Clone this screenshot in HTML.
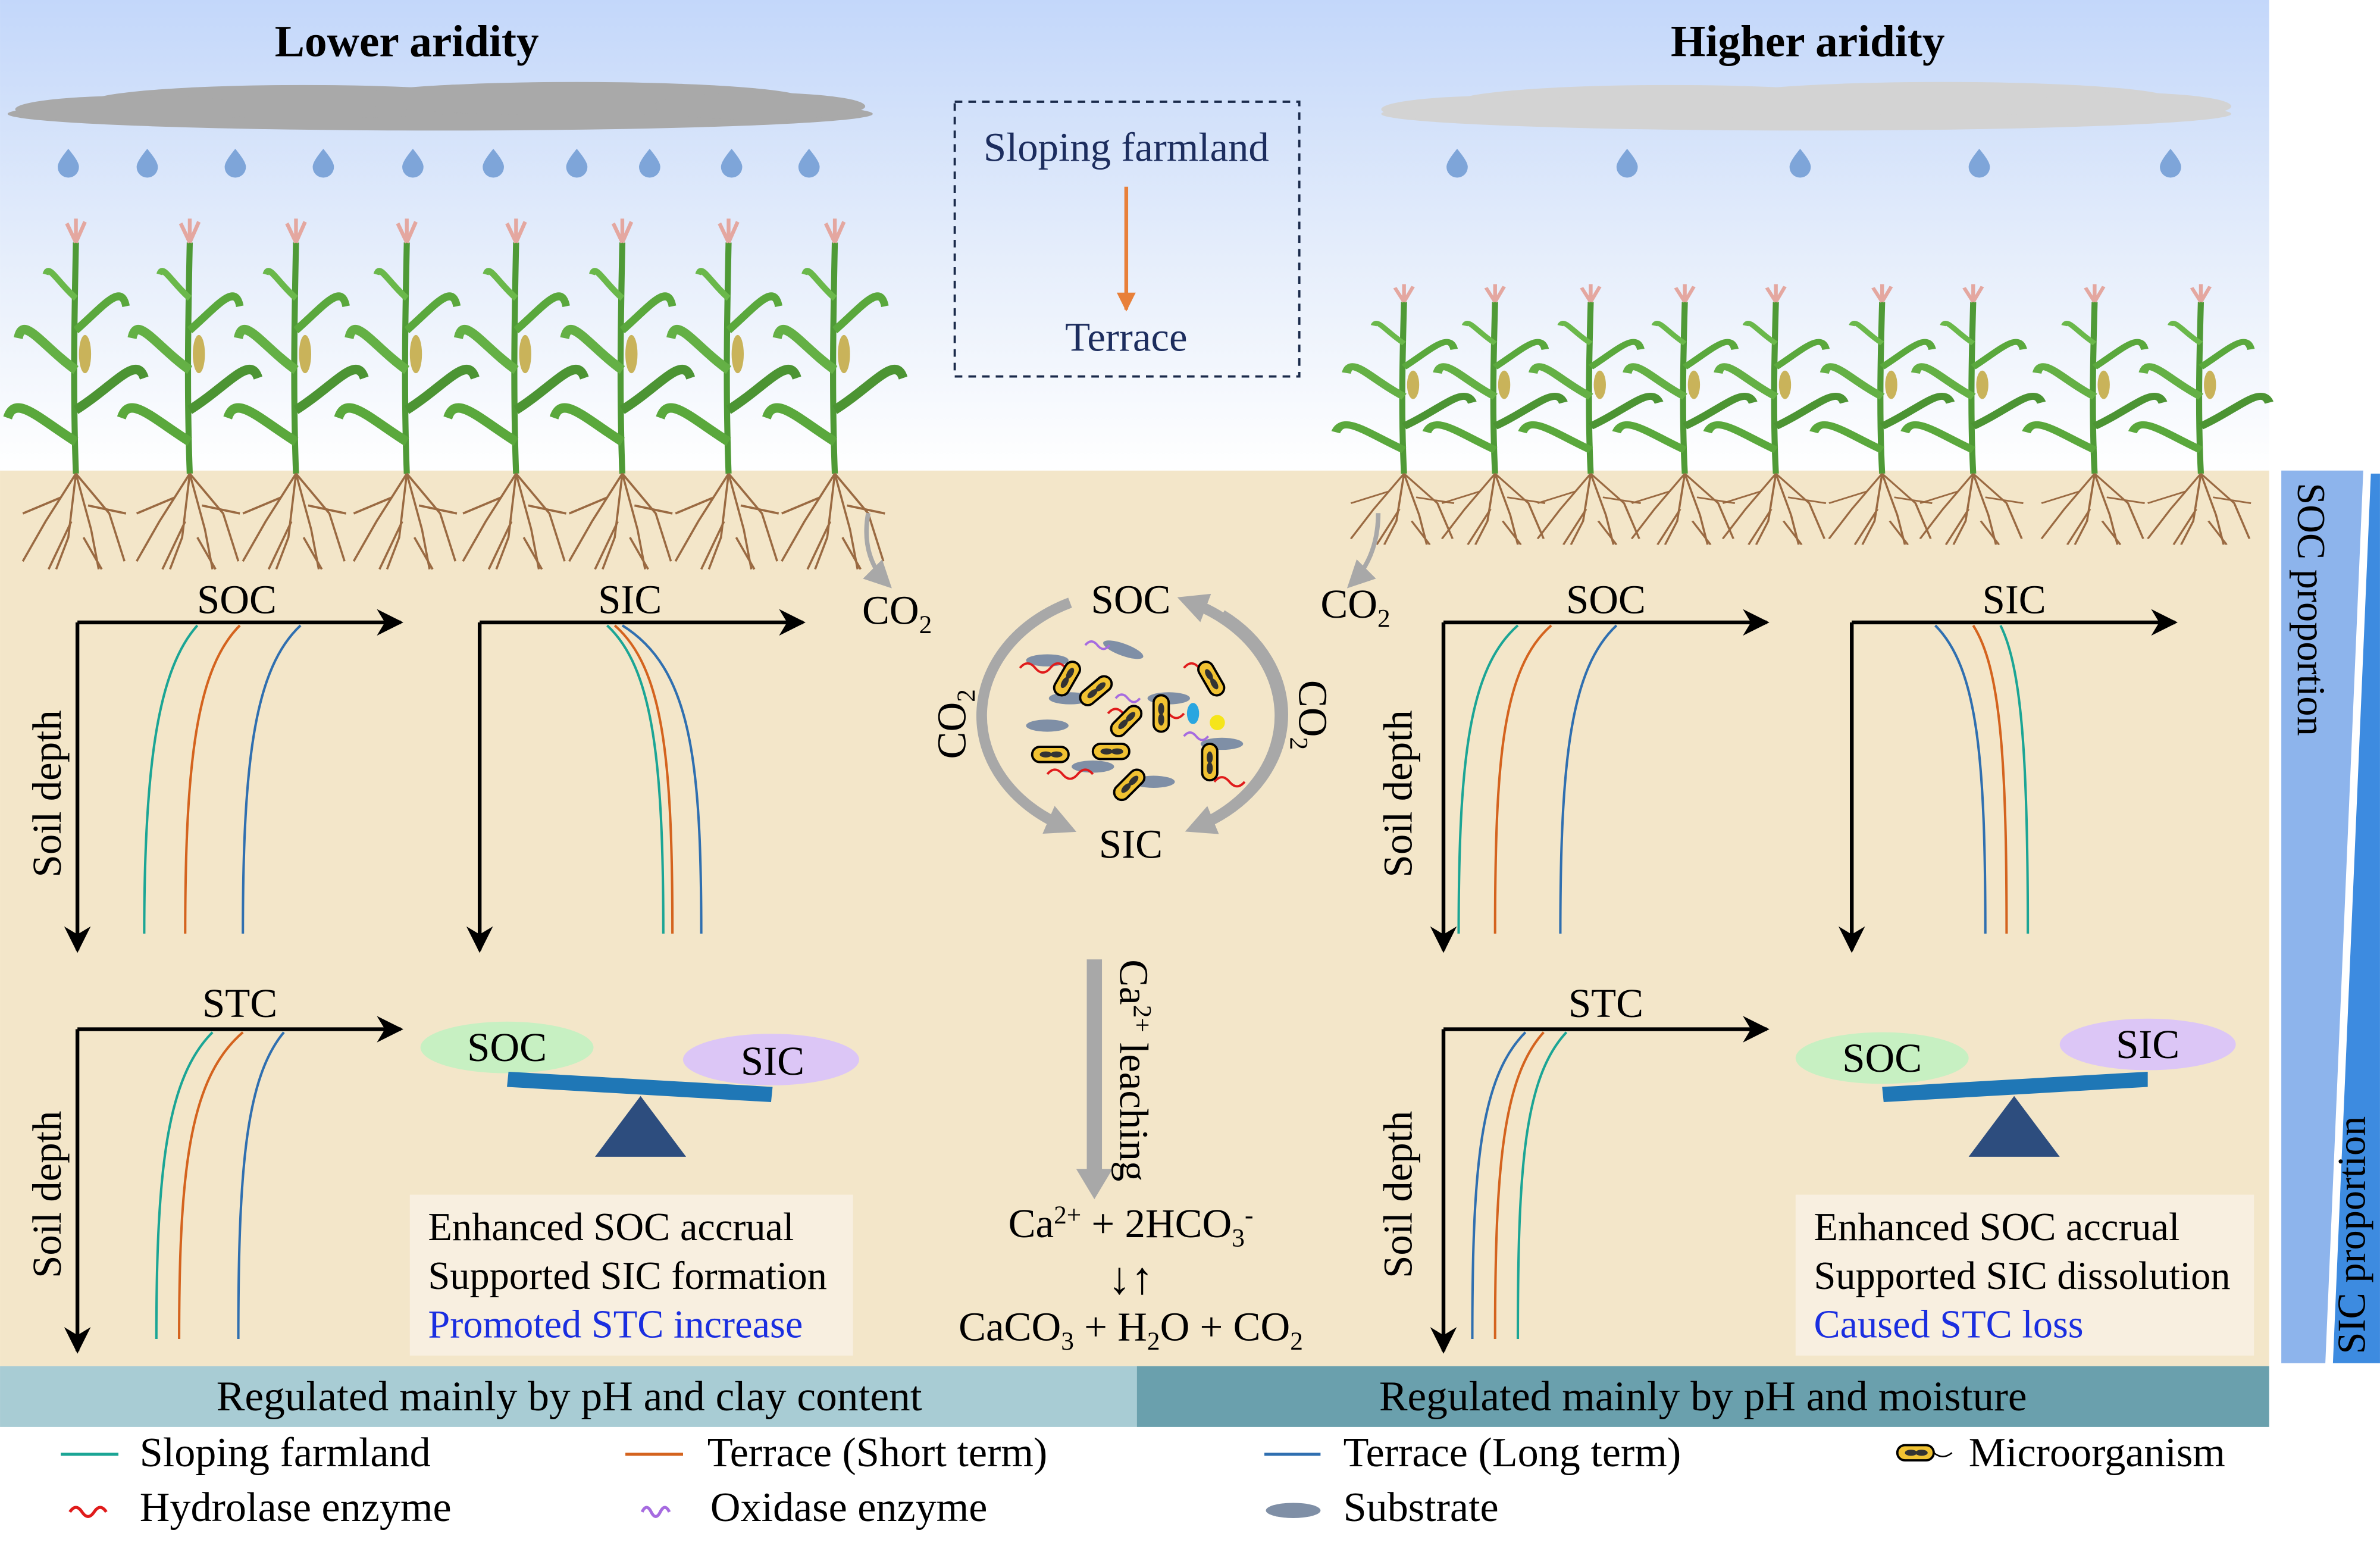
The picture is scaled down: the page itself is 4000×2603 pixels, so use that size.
<!DOCTYPE html>
<html><head><meta charset="utf-8">
<style>
html,body{margin:0;padding:0;background:#fff;}
svg{display:block;}
text{font-family:"Liberation Serif",serif;}
</style></head>
<body>
<svg width="4000" height="2603" viewBox="0 0 1568 1020.4" xmlns="http://www.w3.org/2000/svg">
<defs>
<linearGradient id="sky" x1="0" y1="0" x2="0" y2="1">
<stop offset="0" stop-color="#c3d7fa"/><stop offset="0.55" stop-color="#e6eefb"/><stop offset="1" stop-color="#ffffff"/>
</linearGradient>
<marker id="ah" viewBox="0 0 10 10" refX="9" refY="5" markerWidth="7" markerHeight="7" orient="auto"><path d="M0,0 L10,5 L0,10 L3,5z" fill="#000"/></marker>
<marker id="ao" viewBox="0 0 10 10" refX="9" refY="5" markerWidth="5" markerHeight="5" orient="auto"><path d="M0,0 L10,5 L0,10z" fill="#e8803a"/></marker>
<marker id="ag" viewBox="0 0 10 10" refX="5" refY="5" markerUnits="userSpaceOnUse" markerWidth="20" markerHeight="20" orient="auto"><path d="M0,0 L10,5 L0,10z" fill="#a8a8a8"/></marker>
<marker id="ag2" viewBox="0 0 10 10" refX="8" refY="5" markerWidth="6" markerHeight="6" orient="auto"><path d="M0,0 L10,5 L0,10z" fill="#a8a8a8"/></marker>
<g id="corn">
<path d="M0,0 C-2,-50 -1,-100 0,-145" stroke="#4f9a36" stroke-width="4" fill="none"/>
<path d="M0,-20 C-25,-35 -40,-50 -45,-35" stroke="#5aa83c" stroke-width="6" fill="none"/>
<path d="M0,-40 C25,-55 40,-75 45,-60" stroke="#4c9433" stroke-width="6" fill="none"/>
<path d="M0,-65 C-22,-80 -35,-100 -38,-85" stroke="#64b045" stroke-width="6" fill="none"/>
<path d="M0,-90 C18,-105 30,-120 33,-105" stroke="#5aa83c" stroke-width="5" fill="none"/>
<path d="M0,-110 C-12,-120 -18,-132 -20,-125" stroke="#6ab84a" stroke-width="4" fill="none"/>
<ellipse cx="6" cy="-75" rx="4" ry="12" fill="#c9b35a"/>
<path d="M0,-145 l-6,-12 M0,-145 l6,-13 M0,-145 l0,-15" stroke="#e4a7a0" stroke-width="2.5"/>
<path d="M0,0 l-20,30 l-15,25 M0,0 l-5,40 l-8,20 M0,0 l10,35 l5,25 M0,0 l22,25 l10,30 M-10,15 l-25,10 M8,20 l25,5 M-3,30 l-15,30 M5,40 l12,20" stroke="#9a6a42" stroke-width="1.4" fill="none"/>
</g>
<path id="drop" d="M0,-9 C4,-4 7,0 7,3 A7,7 0 0 1 -7,3 C-7,0 -4,-4 0,-9z" fill="#7ea5d9"/>
<g id="mic"><rect x="-12" y="-5" width="24" height="10" rx="5" fill="#f1c232" stroke="#000" stroke-width="1.5"/><ellipse cx="-3" cy="0" rx="4" ry="2" fill="#333"/><ellipse cx="4" cy="0" rx="4" ry="2" fill="#333"/></g>
<ellipse id="sub" rx="14" ry="4" fill="#7f8fa6"/>
</defs>

<rect x="0" y="0" width="1495" height="312" fill="url(#sky)"/>
<rect x="0" y="310" width="1495" height="590" fill="#f3e6c9"/>

<!-- clouds -->
<g fill="#a9a9a9"><ellipse cx="290" cy="75" rx="285" ry="11"/><ellipse cx="200" cy="67" rx="140" ry="11"/><ellipse cx="380" cy="65" rx="150" ry="11"/><ellipse cx="90" cy="72" rx="80" ry="9"/><ellipse cx="500" cy="70" rx="70" ry="9"/></g>
<g fill="#d3d3d3"><ellipse cx="1190" cy="75" rx="280" ry="11"/><ellipse cx="1100" cy="67" rx="140" ry="11"/><ellipse cx="1280" cy="65" rx="150" ry="11"/><ellipse cx="990" cy="72" rx="80" ry="9"/><ellipse cx="1400" cy="70" rx="70" ry="9"/></g>
<g>
<use href="#drop" x="45" y="107"/><use href="#drop" x="97" y="107"/><use href="#drop" x="155" y="107"/><use href="#drop" x="213" y="107"/><use href="#drop" x="272" y="107"/><use href="#drop" x="325" y="107"/><use href="#drop" x="380" y="107"/><use href="#drop" x="428" y="107"/><use href="#drop" x="482" y="107"/><use href="#drop" x="533" y="107"/>
<use href="#drop" x="960" y="107"/><use href="#drop" x="1072" y="107"/><use href="#drop" x="1186" y="107"/><use href="#drop" x="1304" y="107"/><use href="#drop" x="1430" y="107"/>
</g>
<text x="268" y="37" font-size="29.5" font-weight="bold" text-anchor="middle">Lower aridity</text>
<text x="1191" y="37" font-size="29.5" font-weight="bold" text-anchor="middle">Higher aridity</text>

<g transform="translate(0,312) scale(1,1.05)">
<use href="#corn" x="50"/><use href="#corn" x="125"/><use href="#corn" x="195"/><use href="#corn" x="268"/><use href="#corn" x="340"/><use href="#corn" x="410"/><use href="#corn" x="480"/><use href="#corn" x="550"/>
</g>
<g transform="translate(0,312) scale(1,0.78)">
<use href="#corn" x="925"/><use href="#corn" x="985"/><use href="#corn" x="1048"/><use href="#corn" x="1110"/><use href="#corn" x="1170"/><use href="#corn" x="1240"/><use href="#corn" x="1300"/><use href="#corn" x="1380"/><use href="#corn" x="1450"/>
</g>

<rect x="629" y="67" width="227" height="181" fill="none" stroke="#1a2a4a" stroke-width="1.5" stroke-dasharray="5,4"/>
<text x="742" y="106" font-size="27" fill="#1c2d5e" text-anchor="middle">Sloping farmland</text>
<line x1="742" y1="123" x2="742" y2="204" stroke="#e8803a" stroke-width="2.5" marker-end="url(#ao)"/>
<text x="742" y="231" font-size="27" fill="#1c2d5e" text-anchor="middle">Terrace</text>

<!-- right strip -->
<polygon points="1503,310 1557,310 1532,898 1503,898" fill="#8db4ec"/>
<polygon points="1562,312 1568,312 1568,898 1537,898" fill="#3d8be0"/>
<text transform="translate(1514,318) rotate(90)" font-size="26">SOC proportion</text>
<text transform="translate(1558,892) rotate(-90)" font-size="26">SIC proportion</text>

<path d="M572,338 C568,360 575,375 585,385" stroke="#a8a8a8" stroke-width="3" fill="none" marker-end="url(#ag2)"/>
<path d="M908,338 C908,360 900,375 890,385" stroke="#a8a8a8" stroke-width="3" fill="none" marker-end="url(#ag2)"/>
<text x="568" y="411" font-size="27">CO<tspan font-size="17" dy="6">2</tspan></text>
<text x="870" y="407" font-size="27">CO<tspan font-size="17" dy="6">2</tspan></text>

<g font-size="27">
<g stroke="#000" stroke-width="2.5" fill="none">
<path d="M51,410 H264" marker-end="url(#ah)"/><line x1="51" y1="410" x2="51" y2="626" marker-end="url(#ah)"/>
<path d="M316,410 H529" marker-end="url(#ah)"/><line x1="316" y1="410" x2="316" y2="626" marker-end="url(#ah)"/>
<path d="M51,678 H264" marker-end="url(#ah)"/><line x1="51" y1="678" x2="51" y2="890" marker-end="url(#ah)"/>
<path d="M951,410 H1164" marker-end="url(#ah)"/><line x1="951" y1="410" x2="951" y2="626" marker-end="url(#ah)"/>
<path d="M1220,410 H1433" marker-end="url(#ah)"/><line x1="1220" y1="410" x2="1220" y2="626" marker-end="url(#ah)"/>
<path d="M951,678 H1164" marker-end="url(#ah)"/><line x1="951" y1="678" x2="951" y2="890" marker-end="url(#ah)"/>
</g>
<text x="156" y="404" text-anchor="middle">SOC</text>
<text x="415" y="404" text-anchor="middle">SIC</text>
<text x="158" y="670" text-anchor="middle">STC</text>
<text x="1058" y="404" text-anchor="middle">SOC</text>
<text x="1327" y="404" text-anchor="middle">SIC</text>
<text x="1058" y="670" text-anchor="middle">STC</text>
<text transform="translate(40,578) rotate(-90)">Soil depth</text>
<text transform="translate(40,842) rotate(-90)">Soil depth</text>
<text transform="translate(930,578) rotate(-90)">Soil depth</text>
<text transform="translate(930,842) rotate(-90)">Soil depth</text>
</g>

<g fill="none" stroke-width="1.6">
<path d="M130,412 C105,440 95,500 95,615" stroke="#1ba595"/>
<path d="M158,412 C130,440 122,500 122,615" stroke="#d4631e"/>
<path d="M198,412 C168,440 160,500 160,615" stroke="#2f6fb0"/>
<path d="M400,412 C430,440 437,500 437,615" stroke="#1ba595"/>
<path d="M405,412 C437,440 443,500 443,615" stroke="#d4631e"/>
<path d="M410,412 C455,440 462,500 462,615" stroke="#2f6fb0"/>
<path d="M140,680 C110,710 103,770 103,882" stroke="#1ba595"/>
<path d="M160,680 C125,710 118,770 118,882" stroke="#d4631e"/>
<path d="M187,680 C162,710 157,770 157,882" stroke="#2f6fb0"/>
<path d="M1000,412 C968,440 961,500 961,615" stroke="#1ba595"/>
<path d="M1022,412 C990,440 985,500 985,615" stroke="#d4631e"/>
<path d="M1065,412 C1035,440 1028,500 1028,615" stroke="#2f6fb0"/>
<path d="M1275,412 C1303,440 1308,500 1308,615" stroke="#2f6fb0"/>
<path d="M1300,412 C1318,440 1322,500 1322,615" stroke="#d4631e"/>
<path d="M1318,412 C1332,440 1336,500 1336,615" stroke="#1ba595"/>
<path d="M1005,680 C975,710 970,770 970,882" stroke="#2f6fb0"/>
<path d="M1017,680 C990,710 985,770 985,882" stroke="#d4631e"/>
<path d="M1032,680 C1004,710 1000,770 1000,882" stroke="#1ba595"/>
</g>

<ellipse cx="334" cy="690" rx="57" ry="17" fill="#c7f0c2"/>
<ellipse cx="508" cy="698" rx="58" ry="17" fill="#dcc6f6"/>
<polygon points="335,706 509,716 508,726 334,716" fill="#1f77b6"/>
<polygon points="392,762 452,762 422,722" fill="#2d4d7e"/>
<text x="334" y="699" font-size="27" text-anchor="middle">SOC</text>
<text x="509" y="708" font-size="27" text-anchor="middle">SIC</text>
<ellipse cx="1240" cy="697" rx="57" ry="17" fill="#c7f0c2"/>
<ellipse cx="1415" cy="688" rx="58" ry="17" fill="#dcc6f6"/>
<polygon points="1240,716 1415,706 1415,716 1241,726" fill="#1f77b6"/>
<polygon points="1297,762 1357,762 1327,722" fill="#2d4d7e"/>
<text x="1240" y="706" font-size="27" text-anchor="middle">SOC</text>
<text x="1415" y="697" font-size="27" text-anchor="middle">SIC</text>

<rect x="270" y="787" width="292" height="106" fill="#f8efe0"/>
<rect x="1183" y="787" width="302" height="106" fill="#f8efe0"/>
<g font-size="26">
<text x="282" y="817">Enhanced SOC accrual</text>
<text x="282" y="849">Supported SIC formation</text>
<text x="282" y="881" fill="#1a2ee0">Promoted STC increase</text>
<text x="1195" y="817">Enhanced SOC accrual</text>
<text x="1195" y="849">Supported SIC dissolution</text>
<text x="1195" y="881" fill="#1a2ee0">Caused STC loss</text>
</g>

<!-- center cycle -->
<g fill="none" stroke="#a8a8a8" stroke-width="7">
<path d="M705,397 A100,82 0 0 0 700,544" marker-end="url(#ag)"/>
<path d="M790,544 A100,82 0 0 0 785,397" marker-end="url(#ag)"/>
<path d="M805,405 A100,82 0 0 1 790,544" marker-end="url(#ag)"/>
</g>
<text x="745" y="404" font-size="27" text-anchor="middle">SOC</text>
<text x="745" y="565" font-size="27" text-anchor="middle">SIC</text>
<text transform="translate(636,500) rotate(-90)" font-size="27">CO<tspan font-size="17" dy="6">2</tspan></text>
<text transform="translate(856,448) rotate(90)" font-size="27">CO<tspan font-size="17" dy="6">2</tspan></text>
<g>
<use href="#sub" x="690" y="435"/><use href="#sub" x="740" y="428" transform="rotate(20 740 428)"/><use href="#sub" x="690" y="478"/><use href="#sub" x="770" y="460"/><use href="#sub" x="805" y="490"/><use href="#sub" x="720" y="505"/><use href="#sub" x="760" y="515"/><use href="#sub" x="705" y="460"/>
<path d="M672,440 q5,-6 10,0 t10,0 t10,0 M730,470 q5,-6 10,0 t10,0 M690,510 q5,-6 10,0 t10,0 t10,0 M780,440 q5,-6 10,0 t10,0 M800,515 q5,-6 10,0 t10,0 M760,470 q5,-6 10,0 t10,0" stroke="#e01b1b" stroke-width="1.5" fill="none"/>
<path d="M735,460 q4,-5 8,0 t8,0 M715,425 q4,-5 8,0 t8,0 M780,485 q4,-5 8,0 t8,0" stroke="#a66be0" stroke-width="1.5" fill="none"/>
<use href="#mic" x="703" y="447" transform="rotate(-60 703 447)"/>
<use href="#mic" x="722" y="455" transform="rotate(-40 722 455)"/>
<use href="#mic" x="798" y="447" transform="rotate(60 798 447)"/>
<use href="#mic" x="765" y="470" transform="rotate(90 765 470)"/>
<use href="#mic" x="742" y="475" transform="rotate(-45 742 475)"/>
<use href="#mic" x="692" y="497"/>
<use href="#mic" x="732" y="495"/>
<use href="#mic" x="744" y="517" transform="rotate(-45 744 517)"/>
<use href="#mic" x="797" y="502" transform="rotate(90 797 502)"/>
<ellipse cx="786" cy="470" rx="4" ry="7" fill="#29a6e0"/>
<circle cx="802" cy="476" r="5" fill="#f5e51a"/>
</g>

<rect x="716" y="632" width="10" height="140" fill="#a8a8a8"/>
<polygon points="709,770 733,770 721,790" fill="#a8a8a8"/>
<text transform="translate(738,632) rotate(90)" font-size="27">Ca<tspan font-size="17" dy="-9">2+</tspan><tspan dy="9"> leaching</tspan></text>
<text x="745" y="815" font-size="27" text-anchor="middle">Ca<tspan font-size="17" dy="-9">2+</tspan><tspan dy="9"> + 2HCO</tspan><tspan font-size="17" dy="6">3</tspan><tspan font-size="17" dy="-15">-</tspan></text>
<text x="745" y="852" font-size="30" text-anchor="middle">↓↑</text>
<text x="745" y="883" font-size="27" text-anchor="middle">CaCO<tspan font-size="17" dy="6">3</tspan><tspan dy="-6"> + H</tspan><tspan font-size="17" dy="6">2</tspan><tspan dy="-6">O + CO</tspan><tspan font-size="17" dy="6">2</tspan></text>

<rect x="0" y="900" width="749" height="40" fill="#a8ccd4"/>
<rect x="749" y="900" width="746" height="40" fill="#6aa0ad"/>
<text x="375" y="929" font-size="28" text-anchor="middle">Regulated mainly by pH and clay content</text>
<text x="1122" y="929" font-size="28" text-anchor="middle">Regulated mainly by pH and moisture</text>

<g font-size="27.5">
<line x1="40" y1="958" x2="78" y2="958" stroke="#1ba595" stroke-width="2"/><text x="92" y="966">Sloping farmland</text>
<line x1="412" y1="958" x2="450" y2="958" stroke="#d4631e" stroke-width="2"/><text x="466" y="966">Terrace (Short term)</text>
<line x1="833" y1="958" x2="870" y2="958" stroke="#2f6fb0" stroke-width="2"/><text x="885" y="966">Terrace (Long term)</text>
<use href="#mic" x="1262" y="957"/><path d="M1274,957 q6,5 12,0" stroke="#000" fill="none"/><text x="1297" y="966">Microorganism</text>
<path d="M46,996 q4,-6 8,0 t8,0 t8,0" stroke="#e01b1b" stroke-width="2" fill="none"/><text x="92" y="1002">Hydrolase enzyme</text>
<path d="M423,996 q3,-6 6,0 t6,0 t6,0" stroke="#a66be0" stroke-width="2" fill="none"/><text x="468" y="1002">Oxidase enzyme</text>
<ellipse cx="852" cy="995" rx="18" ry="5" fill="#7f8fa6"/><text x="885" y="1002">Substrate</text>
</g>
</svg>
</body></html>
